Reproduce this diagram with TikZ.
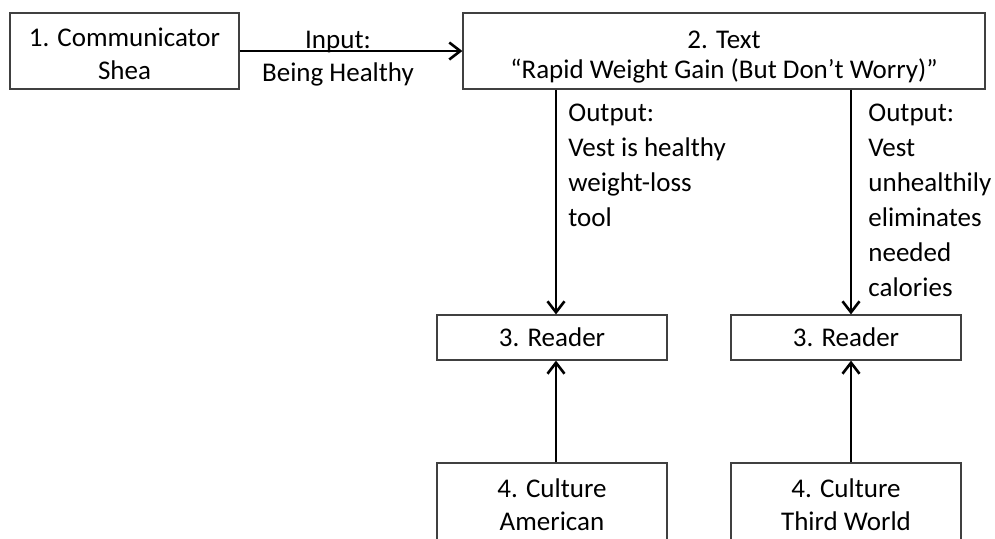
\documentclass[tikz,border=0pt]{standalone}
\usepackage{fontspec}
\setmainfont{Carlito}
\usetikzlibrary{arrows.meta}

\tikzset{
  box/.style={draw=black!75, line width=0.6pt, inner sep=0pt, align=center,
    font=\fontsize{13.5}{16.5}\selectfont},
  lbl/.style={inner sep=0pt, font=\fontsize{13.5}{17.5}\selectfont},
  arr/.style={draw=black, line width=1.3pt,
    -{Straight Barb[length=5.5pt,width=8.5pt,line width=1.3pt]}}
}

\begin{document}
\begin{tikzpicture}[x=0.5pt,y=-0.5pt]
  \useasboundingbox (0,0) rectangle (995,538);

  % top row
  \node[box, minimum width=229*0.5pt, minimum height=76*0.5pt] (comm) at (124.5,51)
    {\rule{0pt}{12.5pt}1. Communicator\\Shea};
  \node[box, minimum width=522*0.5pt, minimum height=76*0.5pt,
        font=\fontsize{13.5}{15}\selectfont] (txt) at (724,51)
    {\rule{0pt}{14.4pt}2. Text\\“Rapid Weight Gain (But Don’t Worry)”};

  % readers
  \node[box, minimum width=230*0.5pt, minimum height=45*0.5pt] (rdA) at (552,337.5)
    {3. Reader};
  \node[box, minimum width=230*0.5pt, minimum height=45*0.5pt] (rdB) at (846,337.5)
    {3. Reader};

  % cultures (running off the lower edge)
  \node[box, minimum width=230*0.5pt, minimum height=84*0.5pt] (cuA) at (552,505)
    {4. Culture\\American};
  \node[box, minimum width=230*0.5pt, minimum height=84*0.5pt] (cuB) at (846,505)
    {4. Culture\\Third World};

  % labels
  \node[lbl, align=center, font=\fontsize{13.5}{16.5}\selectfont] (inp) at (338,59)
    {Input:\\Being Healthy};
  \node[lbl, align=left, anchor=north west] (outA) at (568,104)
    {Output:\\Vest is healthy\\weight-loss\\tool};
  \node[lbl, align=left, anchor=north west] (outB) at (868,104)
    {Output:\\Vest\\unhealthily\\eliminates\\needed\\calories};

  % connectors
  \draw[arr] (comm.east) -- (txt.west);
  \draw[arr] ([xshift=2pt]rdA.north |- txt.south) -- ([xshift=2pt]rdA.north);
  \draw[arr] ([xshift=2.5pt]rdB.north |- txt.south) -- ([xshift=2.5pt]rdB.north);
  \draw[arr] ([xshift=2pt]cuA.north) -- ([xshift=2pt]rdA.south);
  \draw[arr] ([xshift=2.5pt]cuB.north) -- ([xshift=2.5pt]rdB.south);
\end{tikzpicture}
\end{document}
